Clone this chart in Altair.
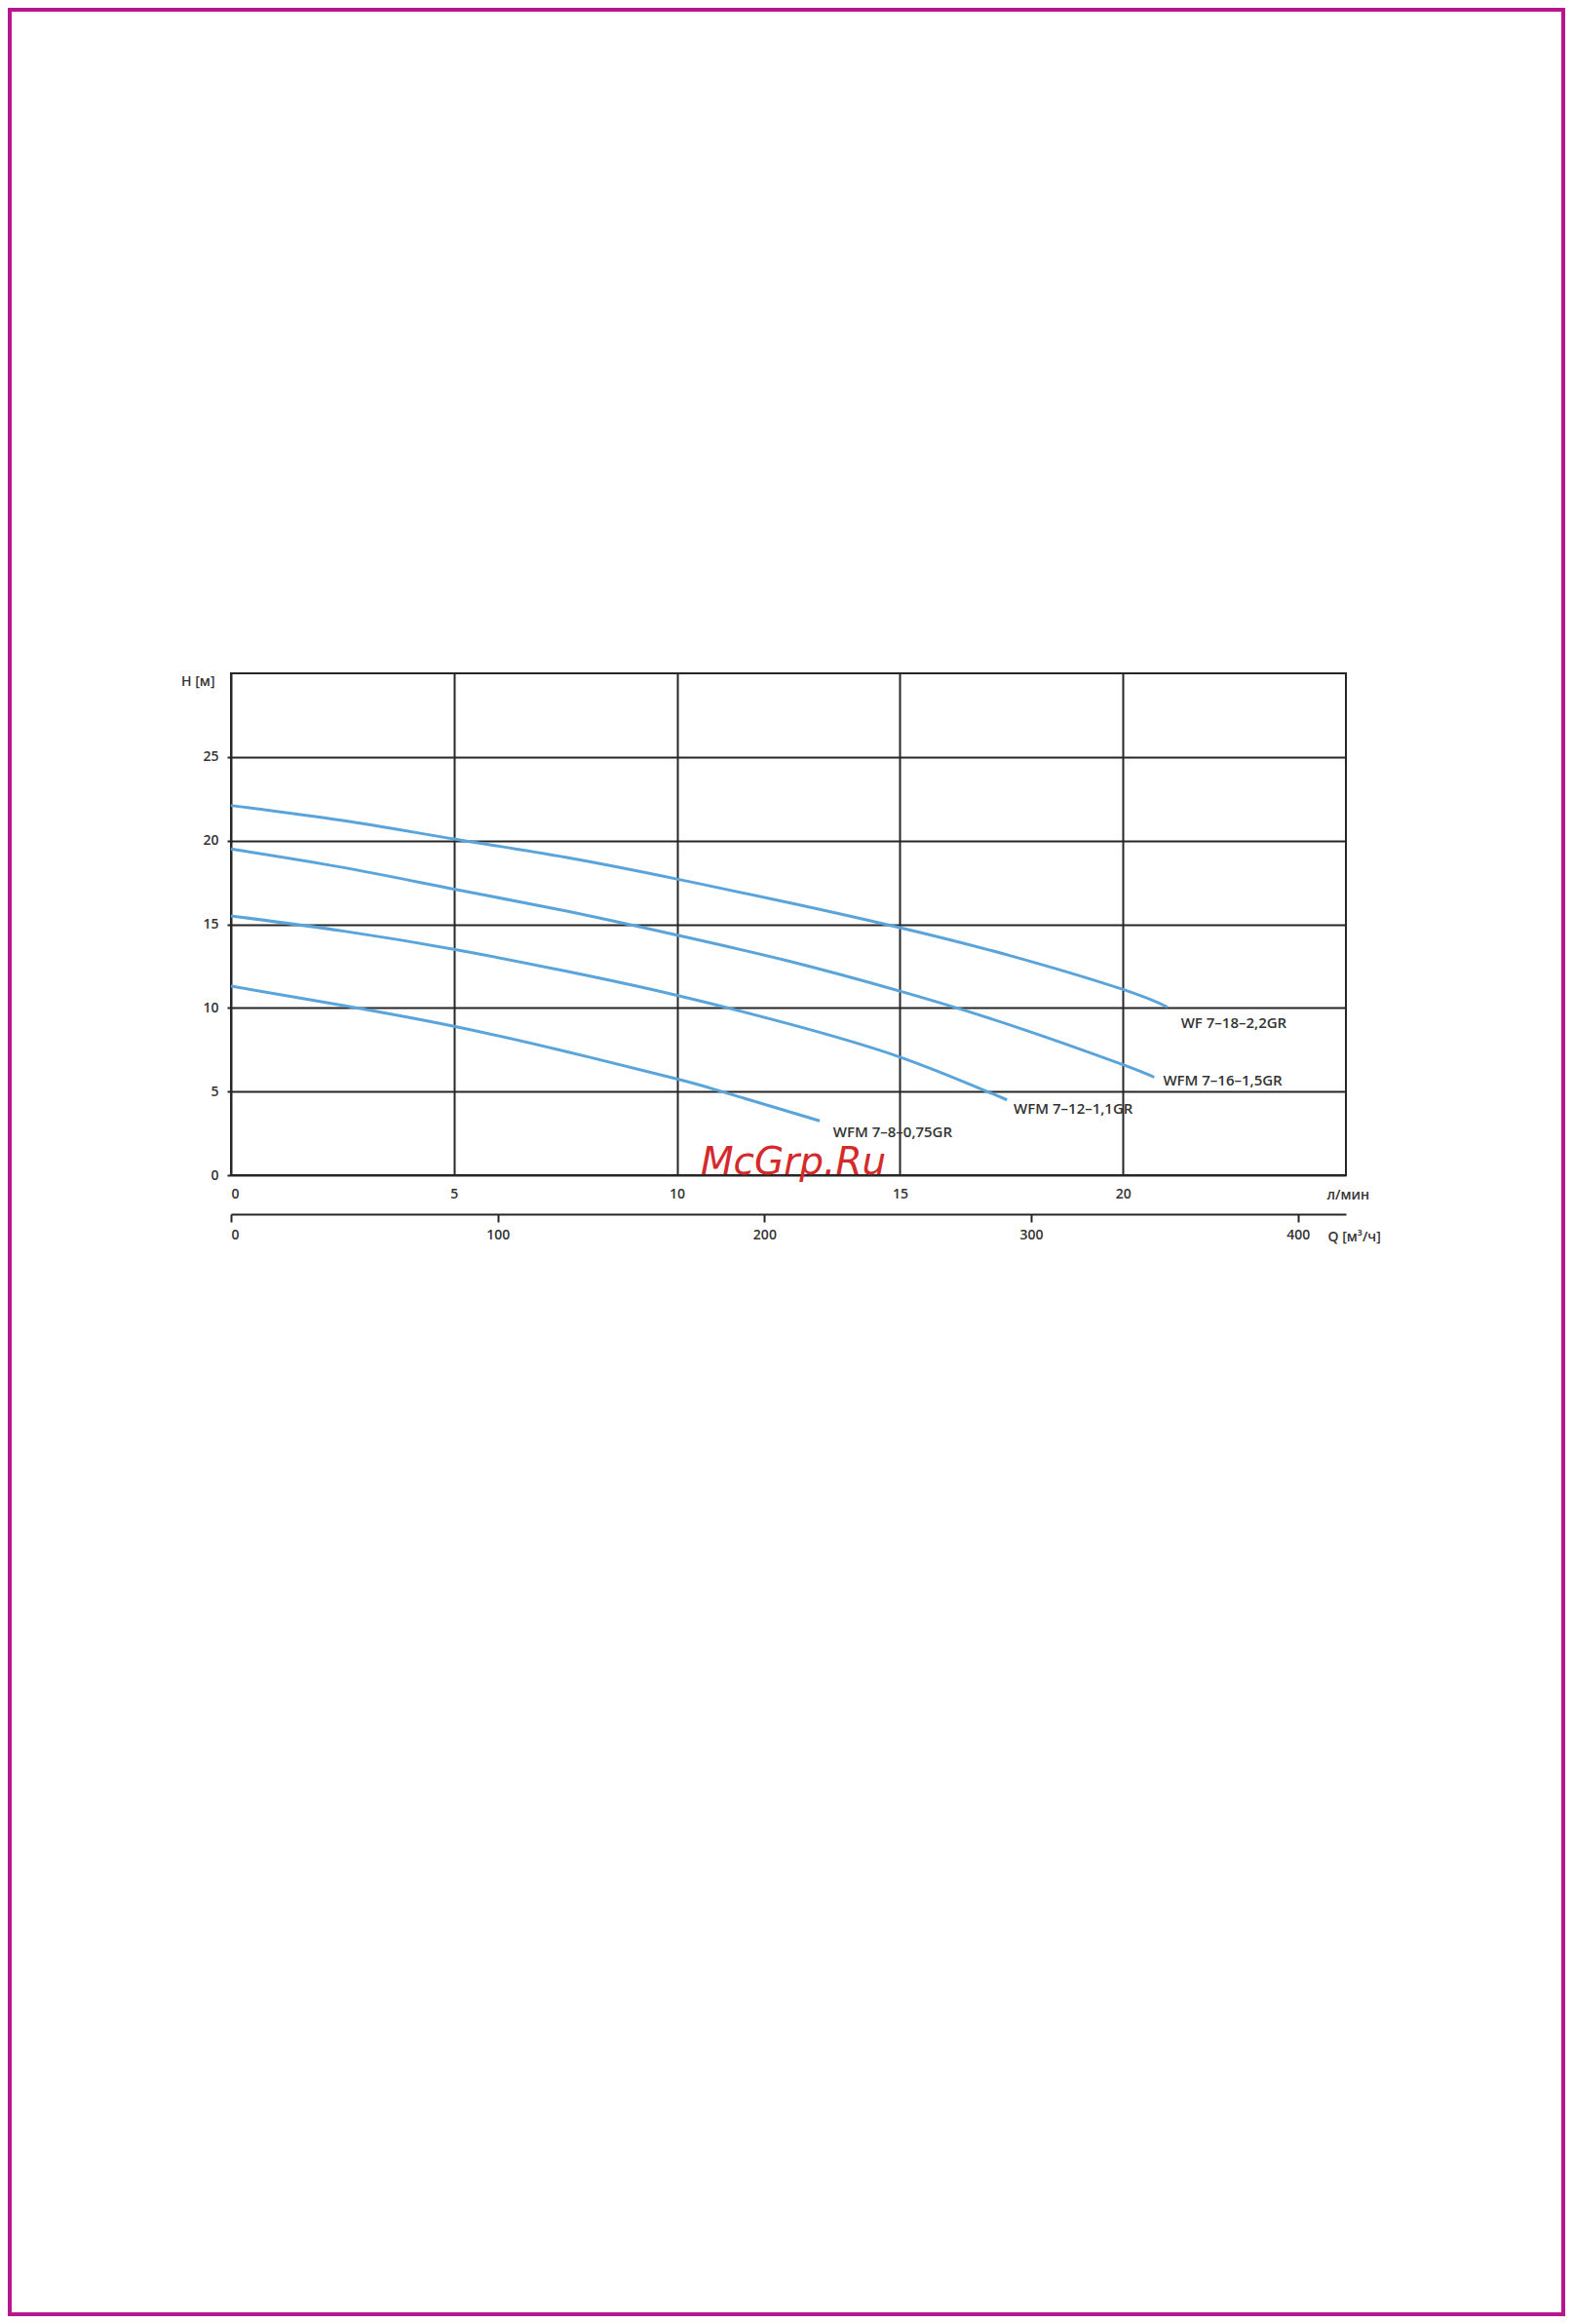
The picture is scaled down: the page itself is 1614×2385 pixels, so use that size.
import altair as alt
import pandas as pd

# ---- data ----
curve_names = ["WF 7–18–2,2GR", "WFM 7–16–1,5GR", "WFM 7–12–1,1GR", "WFM 7–8–0,75GR"]

x_wf18 = [0, 2.5, 5, 7.5, 10, 12.5, 15, 17.5, 20, 21.0]
h_wf18 = [22.1, 21.2, 20.1, 19.0, 17.7, 16.3, 14.8, 13.1, 11.1, 10.05]

x_wfm16 = [0, 2.5, 5, 7.5, 10, 12.5, 15, 17.5, 20, 20.7]
h_wfm16 = [19.5, 18.4, 17.1, 15.8, 14.35, 12.8, 11.0, 8.95, 6.6, 5.85]

x_wfm12 = [0, 2.5, 5, 7.5, 10, 12.5, 15, 17.4]
h_wfm12 = [15.5, 14.6, 13.5, 12.2, 10.75, 9.05, 7.06, 4.5]

x_wfm8 = [0, 2.5, 5, 7.5, 10, 11, 13.2]
h_wfm8 = [11.3, 10.15, 8.9, 7.4, 5.75, 5.0, 3.25]

label_x = [21.3, 20.9, 17.55, 13.5]
label_y = [9.1, 5.65, 3.95, 2.56]

top_ticks = [0, 5, 10, 15, 20]
y_ticks = [0, 5, 10, 15, 20, 25]
q_ticks = [0, 100, 200, 300, 400]

watermark_text = ["McGrp.Ru"]
watermark_x = [12.61]
watermark_y = [0.05]

# ---- tables ----
rows = []
for name, xs, hs in zip(curve_names,
                        [x_wf18, x_wfm16, x_wfm12, x_wfm8],
                        [h_wf18, h_wfm16, h_wfm12, h_wfm8]):
    for i, (xv, hv) in enumerate(zip(xs, hs)):
        rows.append({"curve": name, "x": xv, "h": hv, "order": i})
curves_df = pd.DataFrame(rows)
labels_df = pd.DataFrame({"curve": curve_names, "x": label_x, "h": label_y})
wm_df = pd.DataFrame({"t": watermark_text, "x": watermark_x, "h": watermark_y})
q_df = pd.DataFrame({"q": q_ticks})
one_df = pd.DataFrame({"k": [0]})

TXT = "#333333"
GRID = "#262626"
FONT = "Open Sans"
FW = 600

xscale = alt.Scale(domain=[0, 25], nice=False, zero=False)
yscale = alt.Scale(domain=[0, 30], nice=False, zero=False)

x_axis = alt.Axis(
    orient="bottom", values=top_ticks, grid=True, gridColor=GRID, gridWidth=2,
    gridOpacity=1, domain=False, ticks=False, tickSize=0, labelPadding=12,
    labelFont=FONT, labelFontSize=14, labelFontWeight=FW, labelColor=TXT,
    labelAngle=0,
    title="л/мин", titleX=1124, titleY=20, titleAlign="left",
    titleBaseline="middle", titleFont=FONT, titleFontSize=14,
    titleFontWeight=FW, titleColor=TXT, titleAngle=0,
)
y_axis = alt.Axis(
    values=y_ticks, grid=True, gridColor=GRID, gridWidth=2, gridOpacity=1,
    domain=False, ticks=True, tickSize=4, tickWidth=2, tickColor=GRID,
    labelPadding=9, labelFont=FONT, labelFontSize=14, labelFontWeight=FW,
    labelColor=TXT,
    title="H [м]", titleAngle=0, titleX=-17, titleY=8, titleAlign="right",
    titleBaseline="middle", titleFont=FONT, titleFontSize=14,
    titleFontWeight=FW, titleColor=TXT,
)

X = alt.X("x:Q", scale=xscale, axis=x_axis)
Y = alt.Y("h:Q", scale=yscale, axis=y_axis)

lines = alt.Chart(curves_df).mark_line(
    color="#5aa4dc", strokeWidth=3, interpolate="natural"
).encode(
    x=X, y=Y,
    detail="curve:N",
    order="order:Q",
)

labels = alt.Chart(labels_df).mark_text(
    align="left", baseline="middle", font=FONT, fontSize=15, fontWeight=FW,
    color=TXT
).encode(
    x=X, y=Y,
    text="curve:N",
)

watermark = alt.Chart(wm_df).mark_text(
    align="center", baseline="alphabetic", font="DejaVu Sans", fontSize=39,
    fontStyle="italic", color="#d42a2c"
).encode(
    x=X, y=Y,
    text="t:N",
)

border = alt.Chart(one_df).mark_rect(
    filled=False, stroke="#b8168f", strokeWidth=4
).encode(
    x=alt.value(-227), x2=alt.value(1367),
    y=alt.value(-681), y2=alt.value(1684),
)

inner = alt.layer(lines, labels, watermark, border)

q_layer = alt.Chart(q_df).mark_point(opacity=0).encode(
    x=alt.X(
        "q:Q",
        scale=alt.Scale(domain=[0, 418], nice=False, zero=False),
        axis=alt.Axis(
            orient="bottom", offset=40, values=q_ticks, grid=False,
            domain=True, domainColor=GRID, domainWidth=2,
            ticks=True, tickSize=8, tickWidth=2, tickColor=GRID,
            labelPadding=6, labelFont=FONT, labelFontSize=14,
            labelFontWeight=FW, labelColor=TXT, labelAngle=0,
            title="Q [м³/ч]", titleX=1125, titleY=23, titleAlign="left",
            titleBaseline="middle", titleFont=FONT, titleFontSize=14,
            titleFontWeight=FW, titleColor=TXT, titleAngle=0,
        ),
    ),
    y=alt.value(0),
)

chart = alt.layer(inner, q_layer).resolve_scale(x="independent").resolve_axis(
    x="independent"
).properties(
    width=1144, height=515,
    autosize="none",
    background="white",
    padding={"left": 229, "top": 683, "right": 225, "bottom": 1171},
).configure_view(
    stroke=GRID, strokeWidth=2
)

chart.save("out.html", embed_options={"renderer": "svg", "actions": False})
